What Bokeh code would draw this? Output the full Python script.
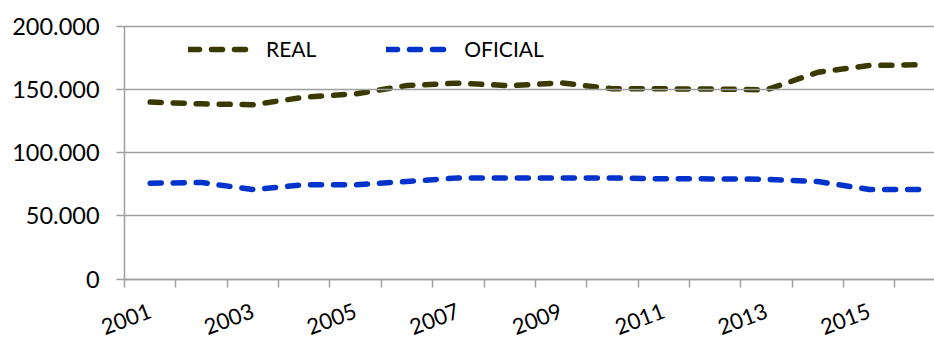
from bokeh.plotting import figure
from bokeh.models import FixedTicker, Legend, LegendItem, Range1d
from bokeh.embed import file_html
from bokeh.resources import INLINE

# Annual series, 2001-2016
years = [str(y) for y in range(2001, 2017)]
real = [140000, 138600, 137900, 143900, 146500, 153100, 155000, 153000,
        155200, 150500, 150500, 150300, 149700, 163600, 168900, 169500]
oficial = [75900, 76400, 70900, 74600, 74600, 77200, 80100, 80000,
           80000, 80000, 79400, 79300, 79000, 77200, 70900, 70900]
y_ticks = [0, 50000, 100000, 150000, 200000]
y_labels = ["0", "50.000", "100.000", "150.000", "200.000"]

FONT = "Lato"
GRID = "#a0a0a0"

# categories sit at the centre of unit-wide slots
xs = [i + 0.5 for i in range(len(years))]
x_end = 15.77

# The frame covers the whole canvas; both axes are pinned at zero so that
# their labels have room on the left and below the plotting area.
p = figure(width=934, height=342, output_backend="svg", toolbar_location=None,
           x_range=Range1d(-2.415, x_end), y_range=Range1d(-50040, 220316),
           min_border_left=0, min_border_right=0, min_border_top=0,
           min_border_bottom=0)
p.outline_line_color = None
p.background_fill_color = "white"
p.border_fill_color = "white"
p.xgrid.grid_line_color = None
p.ygrid.grid_line_color = None

r_real = p.line(xs, real, line_color="#3a3a00", line_width=5.5,
                line_dash="11 12", line_cap="round", line_join="round")
r_ofi = p.line(xs, oficial, line_color="#0033cc", line_width=5.5,
               line_dash="11 12", line_cap="round", line_join="round")

# y axis: long inward ticks serve as the horizontal gridlines
p.yaxis.fixed_location = 0
p.yaxis.bounds = (0, 200000)
p.yaxis.ticker = FixedTicker(ticks=y_ticks, minor_ticks=[])
p.yaxis.major_label_overrides = {t: l for t, l in zip(y_ticks, y_labels)}
p.yaxis.major_label_text_font = FONT
p.yaxis.major_label_text_font_size = "23.5px"
p.yaxis.major_label_text_color = "#000000"
p.yaxis.major_tick_out = 8
p.yaxis.major_tick_in = 820
p.yaxis.major_tick_line_color = GRID
p.yaxis.major_tick_line_width = 1.5
p.yaxis.axis_line_color = GRID
p.yaxis.axis_line_width = 1.5
p.yaxis.major_label_standoff = 17

# x axis: labels every other year, ticks on slot boundaries
label_pos = xs[::2]
p.xaxis.fixed_location = 0
p.xaxis.bounds = (0, x_end)
p.xaxis.ticker = FixedTicker(ticks=label_pos, minor_ticks=list(range(len(years))))
p.xaxis.major_label_overrides = {pos: years[i * 2] for i, pos in enumerate(label_pos)}
p.xaxis.major_tick_line_color = None
p.xaxis.major_tick_out = 8
p.xaxis.major_tick_in = 0
p.xaxis.minor_tick_line_color = GRID
p.xaxis.minor_tick_line_width = 1.5
p.xaxis.minor_tick_out = 8
p.xaxis.minor_tick_in = 0
p.xaxis.axis_line_color = GRID
p.xaxis.axis_line_width = 1.5
p.xaxis.major_label_orientation = 0.36
p.xaxis.major_label_text_font = FONT
p.xaxis.major_label_text_font_size = "22px"
p.xaxis.major_label_text_color = "#000000"
p.xaxis.major_label_standoff = 23

legend = Legend(items=[LegendItem(label="REAL", renderers=[r_real]),
                       LegendItem(label="OFICIAL", renderers=[r_ofi])],
                orientation="horizontal", location=(188, 281),
                glyph_width=62, glyph_height=20, label_standoff=16,
                spacing=70, padding=0, margin=0,
                border_line_color=None, background_fill_alpha=0,
                label_text_font=FONT, label_text_font_size="21px",
                label_text_color="#000000")
p.add_layout(legend)

with open("out.html", "w") as f:
    f.write(file_html(p, INLINE))
